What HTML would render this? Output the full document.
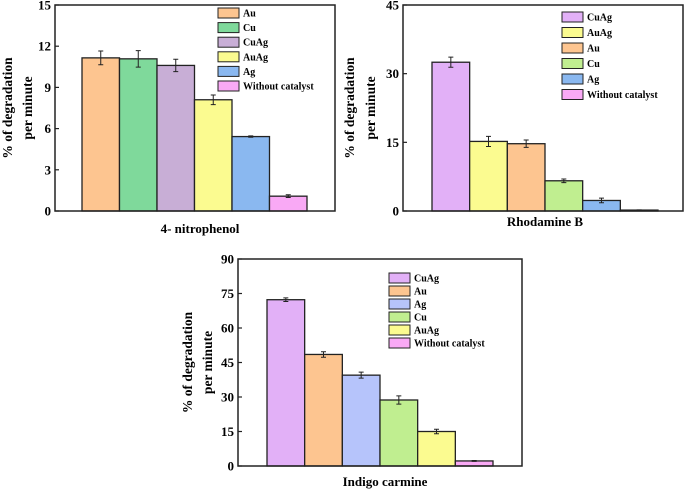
<!DOCTYPE html>
<html><head><meta charset="utf-8"><style>
body{margin:0;background:#fff;}
svg{display:block;font-family:"Liberation Serif",serif;font-weight:bold;}
</style></head><body>
<svg id="fig" width="687" height="489"></svg>
<script>
// Chart 1: 4-nitrophenol
const c1Cats=["Au","Cu","CuAg","AuAg","Ag","Without catalyst"];
const c1Vals=[11.15,11.08,10.6,8.1,5.42,1.08];
const c1Errs=[0.5,0.6,0.45,0.35,0.05,0.1];
const c1Ticks=[0,3,6,9,12,15];
const c1Colors=["#fdc590","#7fd99b","#c8aed6","#fbfb90","#8ab8f0","#f9a9f5"];
// Chart 2: Rhodamine B
const c2Cats=["CuAg","AuAg","Au","Cu","Ag","Without catalyst"];
const c2Vals=[32.5,15.2,14.7,6.6,2.3,0.2];
const c2Errs=[1.1,1.1,0.8,0.4,0.5,0.05];
const c2Ticks=[0,15,30,45];
const c2Colors=["#e2b0f7","#fbfb90","#fdc590","#c0ee90","#8ab8f0","#f9a9f5"];
// Chart 3: Indigo carmine
const c3Cats=["CuAg","Au","Ag","Cu","AuAg","Without catalyst"];
const c3Vals=[72.3,48.5,39.5,28.7,15,2.2];
const c3Errs=[0.8,1.2,1.3,1.8,1.0,0.2];
const c3Ticks=[0,15,30,45,60,75,90];
const c3Colors=["#e2b0f7","#fdc590","#b6c4fb","#c0ee90","#fbfb90","#f9a9f5"];

const NS="http://www.w3.org/2000/svg";
const svg=document.getElementById('fig');
function mk(tag,attrs,parent,txt){const e=document.createElementNS(NS,tag);for(const k in attrs)e.setAttribute(k,attrs[k]);if(txt!==undefined)e.textContent=txt;(parent||svg).appendChild(e);return e;}

function chart(id,cfg,cats,vals,errs,ticks,colors){
  const g=mk('g',{});
  
  
  const {x0,x1,yT,yB,bx0,bx1,max,title,tx,ty,yx,ysp,lx,ly,lsp}=cfg;
  const ys=v=>yB-(v/max)*(yB-yT);
  const bw=(bx1-bx0)/cats.length;
  cats.forEach((c,i)=>{
    const r=mk('rect',{x:bx0+i*bw,y:ys(vals[i]),width:bw,height:yB-ys(vals[i]),fill:colors[i],stroke:'#222','stroke-width':1.3},g);
    
    
    const cx=bx0+(i+0.5)*bw,hi=ys(vals[i]+errs[i]),lo=ys(vals[i]-errs[i]);
    const e=mk('path',{d:`M${cx},${hi}V${lo}M${cx-2.5},${hi}H${cx+2.5}M${cx-2.5},${lo}H${cx+2.5}`,stroke:'#222','stroke-width':1,fill:'none'},g);
    
    
  });
  const f=mk('rect',{x:x0,y:yT,width:x1-x0,height:yB-yT,fill:'none',stroke:'#222','stroke-width':1.5},g);
  
  
  ticks.forEach(t=>{
    mk('line',{x1:x0,x2:x0+4,y1:ys(t),y2:ys(t),stroke:'#222','stroke-width':1.2},g);
    const l=mk('text',{x:x0-4,y:ys(t)+4.5,'text-anchor':'end','font-size':13},g,t);
    
    
  });
  const xt=mk('text',{x:tx,y:ty,'text-anchor':'middle','font-size':13},g,title);
  
  
  const cy=(yT+yB)/2;
  const y1=mk('text',{x:yx,y:cy,'text-anchor':'middle','font-size':13.5,transform:`rotate(-90 ${yx} ${cy})`},g,'% of degradation');
  
  
  const y2=mk('text',{x:yx+ysp,y:cy,'text-anchor':'middle','font-size':13.5,transform:`rotate(-90 ${yx+ysp} ${cy})`},g,'per minute');
  
  
  cats.forEach((c,i)=>{
    const yy=ly+i*lsp;
    const s=mk('rect',{x:lx,y:yy-5,width:21,height:10,fill:colors[i],stroke:'#222','stroke-width':1},g);
    
    
    const t=mk('text',{x:lx+25,y:yy+3.5,'font-size':10},g,c);
    
    
  });
}
chart('chart-4-nitrophenol',{x0:55,x1:335,yT:5,yB:211,bx0:82,bx1:307,max:15,title:'4- nitrophenol',tx:200,ty:233,yx:12,ysp:20,lx:218,ly:13,lsp:14.6},c1Cats,c1Vals,c1Errs,c1Ticks,c1Colors);
chart('chart-rhodamine-b',{x0:403,x1:683,yT:5,yB:211,bx0:432,bx1:658,max:45,title:'Rhodamine B',tx:545,ty:226,yx:354,ysp:21,lx:562,ly:17,lsp:15.5},c2Cats,c2Vals,c2Errs,c2Ticks,c2Colors);
chart('chart-indigo-carmine',{x0:238,x1:522,yT:259,yB:466,bx0:267,bx1:493,max:90,title:'Indigo carmine',tx:385,ty:486,yx:192,ysp:20,lx:389,ly:278,lsp:13},c3Cats,c3Vals,c3Errs,c3Ticks,c3Colors);
</script>
</body></html>
